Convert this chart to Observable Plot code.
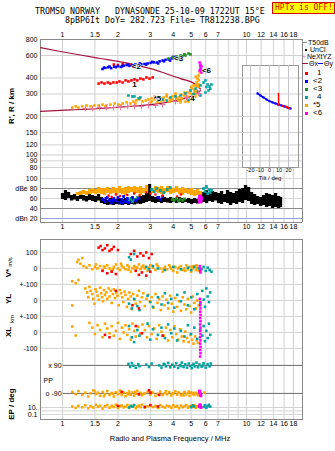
<!DOCTYPE html>
<html><head><meta charset="utf-8">
<script src="https://cdn.jsdelivr.net/npm/d3@7"></script>
<script src="https://cdn.jsdelivr.net/npm/@observablehq/plot@0.6"></script>
<style>
html,body{margin:0;padding:0;background:#fff;}
#c{position:relative;width:335px;height:451px;overflow:hidden;background:#fff;font-family:"Liberation Sans",Arial,sans-serif;color:#000;}
#c svg{position:absolute;}
.t{position:absolute;white-space:pre;line-height:1;}
.mono{font-family:"DejaVu Sans Mono",monospace;font-size:8.3px;}
.rot{transform:translate(-50%,-50%) rotate(-90deg);}
.lg{font-size:8px;}
.lg7{font-size:7px;}
</style></head><body><div id="c"></div>
<script>
// ---------- axes / ticks ----------
const freqDomain = [0.759, 20.15];
const gridF = [1,1.5,2,3,4,5,6,7,8,9,10,12,14,16,18];
const tickTop = [1,1.5,2,3,4,5,6,7,8,10,12,14,16,18];
const tickMid = [1,1.5,2,3,4,5,6,7,8,9,10,12,14,16,18];
const hTicks = [80,90,100,120,150,200,300,400,600,800];
const dbTicks = [100,80,60,40,20];
const dbLabels = ["100","dBe 80","60","40","dBn 20"];
const tiltTicks = [-20,-10,0,10,20];

// ---------- top panel: virtual height vs frequency ----------
const thetaUpper = [[0.759,692],[0.975,645],[1.25,605],[1.61,568],[2.07,534],[2.49,505],[3.01,474],[3.63,434],[4.38,396],[5.28,356],[5.62,328]];
const thetaLower = [[0.759,219],[1.105,225],[1.61,231],[2.34,240],[3.41,253],[4.11,267],[4.96,287],[5.62,318]];
const hBlue = [[1.65,470],[1.71,480],[1.77,485],[1.84,478],[1.91,490],[2.0,495],[2.07,488],[2.15,500],[2.23,505],[2.31,498],[2.40,502],[2.49,510],[2.58,505],[2.68,512],[2.79,515],[2.90,520],[3.01,525],[3.13,530],[3.25,528],[3.37,540],[3.50,548],[3.63,555],[3.77,560],[3.92,570],[4.07,575],
  [1.68,482],[1.80,492],[1.95,486],[2.11,494],[2.27,510],[2.45,498],[2.63,520],[2.85,510],[3.07,535],[3.31,520],[3.56,540],[3.84,548],[4.0,585]];
const hRed = [[1.57,362],[1.63,369],[1.69,362],[1.76,369],[1.82,362],[1.89,369],[1.97,369],[2.04,376],[2.12,369],[2.20,383],[2.28,376],[2.37,383],[2.46,390],[2.55,383],[2.65,396],[2.75,390],[2.86,404],[2.97,396],[3.09,404],
  [1.90,510],[2.0,505],[2.12,512],[2.25,508],[2.35,510]];
const hGreen = [[3.77,568],[3.96,579],[4.16,590],[4.38,600],[4.60,612],[4.84,622],[4.96,612],[4.66,600],[4.27,579],[4.50,595],[4.05,572]];
const hTeal = [[2.28,292],[2.40,287],[2.46,287],[2.59,277],[2.65,282],[3.33,267],[3.50,272],[3.68,267],[3.86,282],[4.11,287],[4.38,292],[4.66,303],[4.96,320],[5.28,331],[5.62,350],[5.84,369],[5.98,383],[6.14,356],[6.29,343],[6.45,356],[5.62,292],[5.98,308],[6.21,320],[4.84,270],[5.15,300],[5.45,312],[6.05,340],[6.35,330]];
const hOrange = [[1.13,235],[1.18,240],[1.22,235],[1.28,240],[1.35,244],[1.42,240],[1.49,244],[1.57,244],[1.65,248],[1.73,244],[1.82,248],[1.92,253],[2.01,248],[2.12,253],[2.23,258],[2.34,253],[2.43,262],[2.52,267],[2.62,272],[2.72,262],[2.83,267],[2.93,272],[3.05,277],[3.16,272],[3.28,282],[3.41,277],[3.54,282],[3.68,287],[3.82,277],[3.96,287],[4.11,292],[4.27,282],[4.43,297],[4.60,292],[4.78,308],[4.96,303],[5.09,331],[5.22,320],[5.28,350],[5.35,369],[5.42,396],[5.49,418],[5.56,442],
  [3.01,258],[3.41,262],[3.86,267],[4.38,267],[4.66,262],[4.96,272],[2.49,253],[2.07,244],[1.71,240],[4.16,277],[4.72,282],[5.09,292],[5.35,303],[5.49,343],[5.49,383],
  [3.05,262],[3.16,287],[3.28,258],[3.54,267],[3.68,297],[3.82,262],[3.96,272],[4.11,303],[4.27,267],[4.43,277],[4.60,308],[4.78,287],[4.96,320],[5.09,297],[5.22,308],[5.35,320],[5.42,343],[5.49,356],[5.28,287],[4.84,262],[4.38,258],[5.15,350],[5.30,410],[5.00,340]];
const hMagenta = [[5.56,529],[5.62,510],[5.69,492],[5.62,474],[5.56,458],[5.69,442],[5.60,500],[5.65,465]];
const hNe = [[1.33,231],[1.46,231],[1.59,235],[1.73,235],[1.89,235],[2.07,235],[2.26,240],[2.46,240],[2.69,240],[2.93,244],[3.20,244],[3.50,248],[4.11,262],[4.72,282],[5.49,303]];
const traceLabels = [["1",2.46,356],["<2",2.52,492],["*5",3.28,277],["<3",4.27,568],["<6",6.06,458],["4",5.09,277]];

// ---------- tilt inset ----------
const tiltBlue = [[-12.6,303],[-9.5,292],[-6.3,282],[-3.2,272],[0,264],[3.2,258],[6.3,253],[9.5,248],[12.6,244],[15.8,240],[18.9,235],[22.1,231]];
const tiltRed = [[9.5,303],[9.5,290],[9.5,278],[9.5,266],[9.5,256],[9.5,248],[14.2,242],[17.4,238],[20.5,233]];

// ---------- echo amplitude panel (dB) ----------
const dbBlack = [[1.000,58,70],[1.038,56,76],[1.078,60,72],[1.119,55,66],[1.162,57,68],[1.206,54,64],[1.253,58,70],[1.300,55,66],[1.350,53,64],[1.402,56,70],[1.456,54,66],[1.512,52,64],[1.569,55,68],[1.629,50,62],[1.692,48,58],[1.757,46,56],[1.824,47,60],[1.894,46,56],[1.966,48,58],[2.041,47,60],[2.120,46,58],[2.200,48,60],[2.285,46,57],[2.372,48,62],[2.463,47,60],[2.557,49,62],[2.655,48,64],[2.757,50,66],[2.862,52,70],[2.972,54,88],[3.086,52,64],[3.204,50,62],[3.326,52,64],[3.454,50,60],[3.586,52,62],[3.723,51,60],[3.865,50,62],[4.013,52,60],[4.167,50,58],[4.326,52,62],[4.492,50,60],[4.663,52,58],[4.842,50,60],[5.027,48,58],[5.220,50,60],[5.419,49,58],[5.627,50,64],[5.842,52,72],[6.065,50,76],[6.297,54,70],[6.538,52,74],[6.788,55,72],[7.048,50,70],[7.317,48,74],[7.597,52,68],[7.888,50,76],[8.190,46,72],[8.503,50,70],[8.828,48,74],[9.166,52,78],[9.516,50,80],[9.880,56,86],[10.26,54,82],[10.65,48,72],[11.06,46,68],[11.48,48,64],[11.92,44,62],[12.37,46,66],[12.85,42,70],[13.34,44,68],[13.85,40,66],[14.38,42,70],[14.93,40,64],[15.3,42,62]];
const dbOrange = [[1.206,66,72],[1.253,66,74],[1.300,68,76],[1.350,66,74],[1.402,68,78],[1.456,70,80],[1.512,68,78],[1.569,70,82],[1.629,68,80],[1.692,66,80],[1.757,70,82],[1.824,68,78],[1.894,70,82],[1.966,66,80],[2.041,70,84],[2.120,68,80],[2.200,66,82],[2.285,70,84],[2.372,72,82],[2.463,68,84],[2.557,70,82],[2.655,66,84],[2.757,70,80],[2.862,72,86],[3.086,70,80],[3.204,72,84],[3.326,70,82],[3.454,68,84],[3.586,70,80],[3.723,72,84],[3.865,68,82],[4.013,70,80],[4.167,72,84],[4.326,68,80],[4.492,66,82],[4.663,70,80],[4.842,68,78],[5.027,66,80],[5.220,64,76],[5.419,66,78],[5.627,64,74]];
const dbBlue = [[1.65,58],[1.70,54],[1.75,62],[1.80,56],[1.85,52],[1.90,60],[1.95,55],[2.00,62],[2.05,52],[2.10,58],[2.15,64],[2.20,54],[2.25,60],[2.30,52],[2.40,62],[2.50,56],[2.60,60],[3.30,62],[3.40,58],[3.50,64],[1.72,60],[1.88,57],[2.12,51]];
const dbRed = [[1.78,66],[1.85,63],[1.95,68],[2.05,65],[2.25,67],[2.45,70],[2.62,66],[2.85,72],[3.0,70],[3.2,68],[3.5,66],[4.2,64],[4.4,68]];
const dbGreen = [[3.95,58],[4.05,56],[4.15,60],[4.25,55],[4.35,58],[4.5,56],[4.6,59]];
const dbTeal = [[2.30,56],[2.35,60],[2.40,54],[2.45,58],[2.55,62],[3.05,78],[3.15,74],[3.25,80],[3.40,76],[3.55,72],[3.70,78],[3.85,82],[5.85,80],[5.95,74],[6.05,84],[6.15,70],[6.25,78],[6.35,72],[6.45,76]];
const dbMagenta = [[5.55,58],[5.6,54],[5.65,60],[5.58,62],[5.62,56],[5.6,64]];

// ---------- lower panel: V*, YL, XL, PP, EP ----------
const vOrange = [[1.20,40],[1.22,55],[1.25,30],[1.28,65],[1.30,15],[1.35,5],[1.40,20],[1.45,-5],[1.50,10],[1.55,0],[1.60,15],[1.65,-10],[1.70,5],[1.75,20],[1.80,0],[1.85,-15],[1.90,10],[1.95,25],[2.00,0],[2.05,-10],[2.10,15],[2.15,5],[2.20,-5],[2.25,20],[2.30,10],[2.35,-20],[2.40,0],[2.45,15],[2.50,-10],[2.55,5],[2.60,25],[2.65,-5],[2.70,10],[2.80,0],[2.90,-15],[3.00,20],[3.10,5],[3.20,-10],[3.30,15],[3.40,0],[3.50,-20],[3.60,10],[3.70,-5],[3.80,20],[3.90,0],[4.00,-15],[4.10,10],[4.20,-25],[4.30,5],[4.40,15],[4.50,-10],[4.60,0],[4.70,20],[4.80,-5],[4.90,10],[5.00,-20],[5.10,0],[5.20,15],[5.30,-10],[5.40,5],[5.50,-15],[1.13,-80],[1.18,-92],[1.22,-72],
  [1.52,25],[1.68,12],[1.88,-5],[2.08,30],[2.28,-8],[2.48,8],[2.75,18],[2.95,5],[3.25,25],[3.55,-2],[3.85,8],[4.25,0],[4.65,-15],[5.05,12],[5.35,20]];
const vRed = [[1.57,130],[1.61,140],[1.65,115],[1.70,125],[1.75,145],[1.80,110],[1.85,120],[1.90,135],[2.00,115],[2.35,90],[2.45,110],[2.55,75],[2.65,95],[2.75,80],[2.85,100],[2.95,65],[3.05,90],[1.65,-15],[1.75,-30],[1.85,-20],[1.95,-35],[2.50,-15],[2.60,-40],[2.70,-25],[2.85,-45],[3.00,-20]];
const vTeal = [[2.30,70],[2.35,55],[2.45,90],[2.85,10],[2.95,-5],[3.10,15],[3.30,0],[3.60,-10],[4.0,10],[4.4,-5],[4.8,5],[5.0,-10],[5.2,10],[5.5,0],[5.7,-5],[5.85,10],[6.0,-15],[6.15,5],[6.3,-10],[6.45,-20]];
const vMagenta = [[5.58,15],[5.62,0],[5.6,-15],[5.62,-25]];
const ylOrange = [[1.33,75],[1.36,50],[1.38,20],[1.40,85],[1.42,60],[1.45,40],[1.47,10],[1.49,-20],[1.51,70],[1.53,55],[1.55,30],[1.57,5],[1.60,80],[1.62,45],[1.64,20],[1.66,-5],[1.68,65],[1.70,35],[1.73,50],[1.75,10],[1.78,75],[1.80,25],[1.83,60],[1.85,-15],[1.88,40],[1.90,70],[1.93,15],[1.96,50],[1.99,30],[2.02,-30],[2.05,65],[2.08,45],[2.11,20],[2.14,-10],[2.17,55],[2.20,35],[2.24,-40],[2.27,10],[2.31,50],[2.35,25],[2.38,-55],[2.42,40],[2.46,5],[2.50,-20],[2.55,30],[2.60,60],[2.64,-10],[2.70,20],[2.75,45],[2.80,-35],[2.86,10],[2.92,35],[2.98,-5],[3.05,20],[3.12,-45],[3.20,40],[3.28,-15],[3.35,10],[3.42,-60],[3.50,25],[3.58,-30],[3.66,5],[3.75,-50],[3.84,30],[3.92,-20],[4.00,-70],[4.10,15],[4.20,-40],[4.30,-5],[4.40,-65],[4.50,20],[4.60,-25],[4.70,-55],[4.80,10],[4.90,-35],[5.00,-75],[5.10,25],[5.20,-15],[5.30,-50],[5.40,0],[5.50,-30],[1.13,-31]];
const xlOrange = [[1.13,37],[1.18,-19],[1.40,60],[1.45,30],[1.50,-10],[1.55,45],[1.60,15],[1.65,-30],[1.70,55],[1.75,25],[1.80,-5],[1.85,40],[1.90,-20],[1.95,10],[2.00,60],[2.05,-40],[2.10,30],[2.15,0],[2.20,45],[2.25,-15],[2.30,20],[2.35,-45],[2.40,55],[2.45,10],[2.50,-25],[2.58,35],[2.65,-5],[2.72,50],[2.80,15],[2.88,-30],[2.95,40],[3.05,-10],[3.15,25],[3.25,-40],[3.35,45],[3.45,5],[3.55,-20],[3.65,30],[3.75,-50],[3.85,15],[3.95,-30],[4.05,40],[4.15,-10],[4.25,-45],[4.35,20],[4.45,-25],[4.55,-55],[4.65,5],[4.75,-35],[4.85,-60],[4.95,-15],[5.05,-45],[5.15,-70],[5.25,-25],[5.35,-50],[5.45,-65]];
const ylTeal = [[2.30,-20],[2.38,-50],[2.45,10],[2.55,-35],[2.62,-60],[2.90,30],[3.00,-10],[3.10,-40],[3.30,20],[3.45,-25],[3.60,45],[3.75,-15],[3.90,10],[4.05,-45],[4.20,35],[4.40,-5],[4.60,50],[4.80,-30],[5.00,20],[5.20,-55],[5.40,40],[5.60,-20],[5.75,60],[5.85,5],[5.95,-40],[6.05,75],[6.15,25],[6.25,-10],[6.35,50]];
const xlTeal = [[2.30,40],[2.38,-30],[2.45,-60],[2.55,15],[2.62,-20],[2.90,55],[3.00,-45],[3.10,20],[3.30,-15],[3.45,30],[3.60,-35],[3.75,50],[3.90,-5],[4.05,25],[4.20,-50],[4.40,10],[4.60,-25],[4.80,45],[5.00,-10],[5.20,30],[5.40,-40],[5.60,15],[5.75,-20],[5.85,40],[5.95,-55],[6.05,10],[6.15,-35],[6.25,55],[6.35,-15]];
const ylRed = [[2.40,-30],[2.60,-50],[1.95,60]];
const xlRed = [[1.70,-15],[1.80,-30],[2.50,40],[2.70,-5],[3.50,-20]];
const ylMagenta = [[5.58,10],[5.62,-10],[5.60,-30],[5.62,-50],[5.60,-70],[5.62,-90]];
const xlMagenta = [[5.60,90],[5.62,70],[5.60,50],[5.62,30],[5.60,10],[5.62,-10],[5.60,-30],[5.62,-50],[5.60,-70],[5.62,-90],[5.60,-110],[5.62,-130],[5.60,-150]];
const ppTeal = [[2.28,100],[2.33,80],[2.38,105],[2.43,88],[2.50,75],[2.58,98],[2.62,85],[2.85,95],[2.95,80],[3.05,102],[3.35,90],[3.45,76],[3.55,100],[3.65,84],[3.75,106],[3.85,78],[3.95,95],[4.05,82],[4.15,104],[4.25,74],[4.35,92],[4.45,108],[4.55,80],[4.65,97],[4.75,76],[4.85,102],[4.95,86],[5.05,72],[5.15,100],[5.25,84],[5.35,108],[5.45,78],[5.55,96],[5.70,82],[5.85,104],[6.0,76],[6.15,98],[6.3,84],[6.4,102],[3.60,94],[4.40,86],[5.10,92],[5.80,90]];
const ppOrange = [[1.13,-80],[1.18,-95],[1.22,-75],[1.28,-100],[1.33,-85],[1.38,-110],[1.42,-90],[1.47,-70],[1.52,-95],[1.56,-85],[1.60,-105],[1.65,-80],[1.70,-95],[1.75,-75],[1.80,-100],[1.85,-88],[1.90,-110],[1.95,-82],[2.00,-95],[2.05,-72],[2.10,-100],[2.15,-85],[2.20,-108],[2.25,-90],[2.30,-78],[2.35,-98],[2.40,-84],[2.45,-104],[2.50,-92],[2.55,-74],[2.60,-96],[2.65,-86],[2.70,-102],[2.80,-90],[2.90,-80],[3.00,-98],[3.10,-86],[3.20,-106],[3.30,-92],[3.40,-78],[3.50,-100],[3.60,-88],[3.70,-96],[3.80,-82],[3.90,-104],[4.00,-90],[4.10,-76],[4.20,-98],[4.30,-86],[4.40,-102],[4.50,-92],[4.60,-80],[4.70,-96],[4.80,-88],[4.90,-106],[5.00,-84],[5.10,-94],[5.20,-100],[5.30,-86],[5.40,-92],
  [1.50,-78],[1.68,-108],[1.88,-92],[2.08,-86],[2.28,-96],[2.48,-80],[2.75,-94],[3.05,-82],[3.35,-96],[3.65,-76],[3.95,-92],[4.25,-84],[4.55,-104],[4.85,-78],[5.15,-88],[5.45,-102],[5.90,-85]];
const ppRed = [[2.10,-80],[2.60,-95],[2.95,-70],[3.0,-85],[3.35,-100]];
const ppMagenta = [[5.55,-75],[5.6,-90],[5.65,-105],[5.58,-82],[5.62,-98]];
const epOrange = [[1.13,20],[1.18,8],[1.22,30],[1.28,12],[1.33,45],[1.38,6],[1.42,25],[1.47,10],[1.52,60],[1.56,15],[1.60,35],[1.65,5],[1.70,22],[1.75,50],[1.80,9],[1.85,30],[1.90,14],[1.95,70],[2.00,7],[2.05,25],[2.10,40],[2.15,11],[2.20,18],[2.25,55],[2.30,8],[2.35,28],[2.40,16],[2.45,45],[2.50,6],[2.55,20],[2.60,35],[2.65,12],[2.70,65],[2.80,9],[2.90,24],[3.00,40],[3.10,13],[3.20,30],[3.30,7],[3.40,50],[3.50,18],[3.60,10],[3.70,35],[3.80,22],[3.90,8],[4.00,45],[4.10,15],[4.20,28],[4.30,6],[4.40,38],[4.50,12],[4.60,25],[4.70,55],[4.80,9],[4.90,20],[5.00,32],[5.10,14],[5.20,48],[5.30,8],[5.40,26],[5.50,16]];
const epTeal = [[2.30,10],[2.35,30],[2.40,18],[2.45,50],[5.00,12],[5.10,40],[5.20,20],[5.85,15],[5.95,45],[6.05,8],[6.15,28],[6.25,60],[6.35,18]];
const epRed = [[2.0,30],[2.8,15],[3.0,50],[3.3,20]];
const epMagenta = [[5.55,20],[5.6,40],[5.65,10],[5.58,60],[5.62,30]];

// lower panel row layout (stacked sub-axes on one linear scale)
const YL_OFF = -200, XL_OFF = -400;
const ppY = pp => -693.5 + pp * 0.972;
const epY = ep => -912 + (Math.log10(ep) + 1) * 21.5;
const lowTicks = [100,0,-100,-200,-300,-400,-500,-869,-912];
const lowLabels = ["100","0","+-100","0","+-100","0","-100","10.","0.1"];

// colors
const COL = {red:"#ff0000", blue:"#0000ff", green:"#1e8c1e", teal:"#00a2a2", orange:"#ffa500", magenta:"#ff00ff", theta:"#a3123c", ne:"#e8709a"};

// ---------- build ----------
const C = document.getElementById("c");
const style = {background:"transparent", overflow:"visible", fontFamily:"Liberation Sans, Arial, sans-serif", fontSize:"7px", color:"#000"};
function put(svg, left, top){ svg.style.position="absolute"; svg.style.left=left+"px"; svg.style.top=top+"px"; svg.style.maxWidth="none"; C.appendChild(svg); }
const sq = (data, fill, y = d => d[1], r = 1.45) => Plot.dot(data, {x: d => d[0], y, symbol: "square", r, fill});
const fmt = d => String(d);

// top panel
const A = Plot.plot({
  width: 302, height: 172, marginLeft: 40, marginRight: 0, marginTop: 39, marginBottom: 0, style,
  x: {type: "log", domain: freqDomain, label: null, axis: "top", ticks: tickTop, tickFormat: fmt, tickSize: 0, tickPadding: 3},
  y: {type: "log", domain: [73, 800], label: null, ticks: hTicks, tickFormat: fmt, tickSize: 0, tickPadding: 3},
  marks: [
    Plot.ruleX(gridF, {stroke: "#d0d0d0"}),
    Plot.ruleY(hTicks, {stroke: "#d0d0d0"}),
    Plot.ruleY([800], {stroke: "#888"}),
    Plot.ruleX(freqDomain, {stroke: "#888"}),
    Plot.line(thetaUpper, {x: d => d[0], y: d => d[1], stroke: COL.theta, strokeWidth: 1.2, curve: "monotone-x"}),
    Plot.line(thetaLower, {x: d => d[0], y: d => d[1], stroke: COL.theta, strokeWidth: 1.2, curve: "monotone-x"}),
    sq(hOrange, COL.orange),
    sq(hTeal, COL.teal),
    sq(hRed, COL.red),
    sq(hBlue, COL.blue),
    sq(hGreen, COL.green),
    sq(hMagenta, COL.magenta),
    Plot.dot(hNe, {x: d => d[0], y: d => d[1], symbol: "plus", r: 2, stroke: COL.ne, strokeWidth: 1}),
    Plot.text(traceLabels, {x: d => d[1], y: d => d[2], text: d => d[0], fontSize: 8, fontWeight: "bold", fill: "black", stroke: "white", strokeWidth: 1.2, paintOrder: "stroke"})
  ]
});
put(A, 0, 0);

// dB panel
const dbMap = new Map(dbTicks.map((d, i) => [d, dbLabels[i]]));
const B = Plot.plot({
  width: 302, height: 66, marginLeft: 40, marginRight: 0, marginTop: 0, marginBottom: 16, style,
  x: {type: "log", domain: freqDomain, label: null, ticks: tickMid, tickFormat: fmt, tickSize: 0, tickPadding: 2},
  y: {domain: [12, 112], label: null, ticks: dbTicks, tickFormat: d => dbMap.get(d), tickSize: 0, tickPadding: 3},
  marks: [
    Plot.ruleX(gridF, {stroke: "#d0d0d0"}),
    Plot.ruleY([100, 60], {stroke: "#d8d8d8"}),
    Plot.ruleY([80, 40], {stroke: "#8a8a8a"}),
    Plot.ruleY([20], {stroke: "#9aa0d8"}),
    Plot.ruleX(freqDomain, {stroke: "#888"}),
    Plot.ruleY([12], {stroke: "#888"}),
    Plot.ruleX(dbBlack, {x: d => d[0], y1: d => d[1], y2: d => d[2], stroke: "black", strokeWidth: 3.3}),
    Plot.ruleX(dbOrange, {x: d => d[0], y1: d => d[1], y2: d => d[2], stroke: COL.orange, strokeWidth: 3.3}),
    sq(dbTeal, COL.teal, d => d[1], 1.6),
    sq(dbBlue, COL.blue, d => d[1], 1.6),
    sq(dbRed, COL.red, d => d[1], 1.3),
    sq(dbGreen, COL.green, d => d[1], 1.6),
    sq(dbMagenta, COL.magenta, d => d[1], 2.2)
  ]
});
put(B, 0, 172);

// tilt inset
const INS = Plot.plot({
  width: 70, height: 122, marginLeft: 10, marginRight: 4, marginTop: 5, marginBottom: 15,
  style: {...style, fontSize: "5.5px"},
  x: {domain: [-28.4, 30.5], label: null, ticks: tiltTicks, tickFormat: fmt, tickSize: 0, tickPadding: 1},
  y: {type: "log", domain: [80, 501], label: null, axis: null},
  marks: [
    Plot.frame({fill: "white", stroke: "#999"}),
    Plot.ruleY(hTicks.filter(h => h > 80 && h < 500), {stroke: "#d0d0d0"}),
    Plot.ruleX(tiltTicks, {stroke: "#c4c4cc"}),
    Plot.line(tiltBlue, {x: d => d[0], y: d => d[1], stroke: COL.blue, strokeWidth: 1.6}),
    sq(tiltBlue, COL.blue, d => d[1], 1.2),
    Plot.line(tiltRed.slice(0, 6), {x: d => d[0], y: d => d[1], stroke: COL.red, strokeWidth: 1.4}),
    sq(tiltRed.slice(5), COL.red, d => d[1], 1.3)
  ]
});
put(INS, 232, 60);

// lower panel
const lowMap = new Map(lowTicks.map((d, i) => [d, lowLabels[i]]));
const rowAnn = [{x: 1.0, y: -606, t: "x 90"}, {x: 1.0, y: -781, t: "o -90"}];
const Cp = Plot.plot({
  width: 302, height: 219, marginLeft: 40, marginRight: 0, marginTop: 7, marginBottom: 32, style,
  x: {type: "log", domain: freqDomain, label: null, ticks: tickTop, tickFormat: fmt, tickSize: 0, tickPadding: 2},
  y: {domain: [-944, 181], label: null, ticks: lowTicks, tickFormat: d => lowMap.get(d), tickSize: 0, tickPadding: 3},
  marks: [
    Plot.ruleX(gridF, {stroke: "#d0d0d0"}),
    Plot.ruleY([100, 0, -100, -200, -300, -400, -500, -869, -890, -912], {stroke: "#d4d4d4"}),
    Plot.ruleY([-606, -781], {x1: 1.01, x2: freqDomain[1], stroke: "#6a6a6a"}),
    Plot.frame({stroke: "#888"}),
    Plot.text(rowAnn, {x: "x", y: "y", text: "t", textAnchor: "end", dx: -1, fontSize: 7}),
    Plot.text(["PP"], {x: 0.788, y: -700, text: d => d, textAnchor: "start", fontSize: 7}),
    // V*
    sq(vOrange, COL.orange),
    sq(vTeal, COL.teal),
    sq(vRed, COL.red),
    sq(vMagenta, COL.magenta),
    // YL / XL
    sq(ylOrange, COL.orange, d => d[1] + YL_OFF),
    sq(xlOrange, COL.orange, d => d[1] + XL_OFF),
    sq(ylTeal, COL.teal, d => d[1] + YL_OFF),
    sq(xlTeal, COL.teal, d => d[1] + XL_OFF),
    sq(ylRed, COL.red, d => d[1] + YL_OFF),
    sq(xlRed, COL.red, d => d[1] + XL_OFF),
    sq(ylMagenta, COL.magenta, d => d[1] + YL_OFF),
    sq(xlMagenta, COL.magenta, d => d[1] + XL_OFF),
    // PP
    sq(ppTeal, COL.teal, d => ppY(d[1])),
    sq(ppOrange, COL.orange, d => ppY(d[1])),
    sq(ppRed, COL.red, d => ppY(d[1])),
    sq(ppMagenta, COL.magenta, d => ppY(d[1]), 1.7),
    // EP
    sq(epOrange, COL.orange, d => epY(d[1])),
    sq(epTeal, COL.teal, d => epY(d[1])),
    sq(epRed, COL.red, d => epY(d[1])),
    sq(epMagenta, COL.magenta, d => epY(d[1]), 1.7)
  ]
});
put(Cp, 0, 232);

// ---------- html text ----------
function txt(s, left, top, cls = "", css = "") {
  const d = document.createElement("div");
  d.className = "t " + cls; d.textContent = s; d.style.left = left + "px"; d.style.top = top + "px";
  if (css) d.style.cssText += css;
  C.appendChild(d); return d;
}
txt("TROMSO NORWAY   DYNASONDE 25-10-09 1722UT 15°E", 35, 7, "mono");
txt("8pBP6It DoY= 282.723 File= TR812238.BPG", 65, 16, "mono");
txt("HPTx is OFF!", 272, 2, "mono", "font-size:8px;color:#e00000;background:#ffff00;border:1px solid #e00000;padding:1px 1px 1px 2px;");
txt("R', R / km", 12, 106, "rot", "font-size:8px;font-weight:bold;");
txt("V*", 9, 273, "rot", "font-size:8px;font-weight:bold;");
txt("m/s", 10, 262, "rot", "font-size:6px;");
txt("YL", 9, 299, "rot", "font-size:8px;font-weight:bold;");
txt("km", 12, 319, "rot", "font-size:6px;");
txt("XL", 9, 332, "rot", "font-size:8px;font-weight:bold;");
txt("EP / deg", 12, 404, "rot", "font-size:8px;font-weight:bold;");
txt("Radio and Plasma Frequency / MHz", 170, 435, "", "font-size:7.5px;transform:translateX(-50%);");
txt("Tilt / deg", 270, 175, "", "font-size:6px;transform:translateX(-50%);");

// legend
function box(left, top, w, h, bg) {
  const d = document.createElement("div");
  d.style.cssText = `position:absolute;left:${left}px;top:${top}px;width:${w}px;height:${h}px;background:${bg};`;
  C.appendChild(d);
}
box(302, 42, 5, 1, "#999"); txt("T50dB", 308, 38.5, "lg7");
box(305, 49, 1.5, 1.5, "#000"); txt("UnCl", 310, 45.5, "lg7");
txt("+", 302, 52.5, "lg7", "color:" + COL.ne + ";"); txt("NeXtYZ", 307, 52.5, "lg7");
box(302, 63, 6, 1, COL.theta); txt("Θx", 309, 59.5, "lg7");
box(318, 63, 5, 1, COL.blue); txt("Θy", 324, 59.5, "lg7");
const legItems = [["1", COL.red, 73, 317], ["<2", COL.blue, 81, 313], ["<3", COL.green, 89, 313], ["4", COL.teal, 97, 317], ["*5", COL.orange, 105, 313], ["<6", COL.magenta, 113, 313]];
for (const [s, c, y, x] of legItems) { box(305, y - 1.5, 3, 3, c); txt(s, x, y - 4, "lg"); }
</script></body></html>
